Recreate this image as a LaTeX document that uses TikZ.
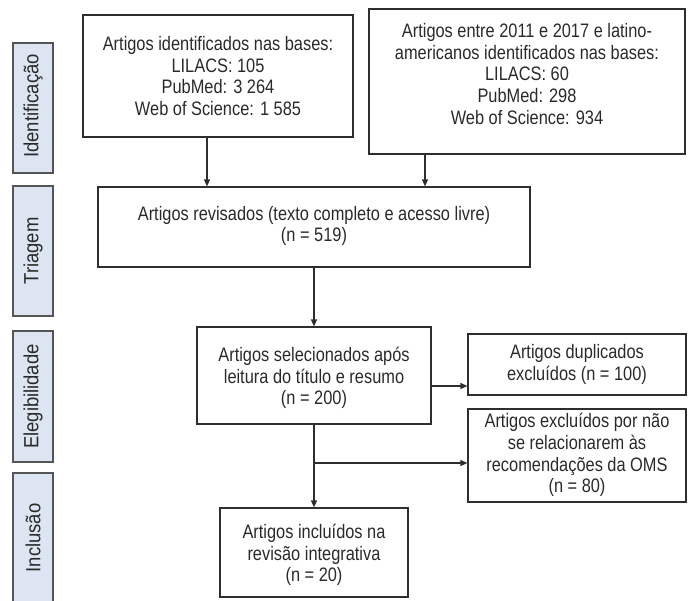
\documentclass[tikz,border=0pt]{standalone}
\usepackage{fontspec}
\setmainfont{Liberation Sans}[FakeStretch=0.84]
\newfontfamily\sidefont{Liberation Sans}[FakeStretch=0.9]
\usetikzlibrary{arrows.meta}
\definecolor{linec}{HTML}{2E2E2E}
\definecolor{txtc}{HTML}{2A2A2A}
\definecolor{sidefill}{HTML}{DCE5F1}
\definecolor{sidedraw}{HTML}{555555}
\tikzset{
  box/.style={draw=linec, line width=1.2pt, rectangle, inner sep=0pt},
  txt/.style={align=center, inner sep=0pt, text=txtc, font=\fontsize{19.5}{21.7}\selectfont},
  side/.style={draw=sidedraw, fill=sidefill, line width=1.2pt, rectangle, inner sep=0pt, minimum width=40pt},
  sidetxt/.style={rotate=90, inner sep=0pt, text=txtc, font=\sidefont\fontsize{20.5}{22}\selectfont},
  arr/.style={draw=linec, line width=1.2pt, -{Triangle[length=7pt,width=6pt]}},
  ln/.style={draw=linec, line width=1.2pt}
}
\begin{document}
\begin{tikzpicture}[x=1pt,y=-1pt]
\useasboundingbox (0,0) rectangle (688,600);
% side labels
\node[side, minimum height=130pt] (s1) at (33,108) {};
\node[sidetxt] (s1t) at (33,106) {Identificação};
\node[side, minimum height=130pt] (s2) at (33,251) {};
\node[sidetxt] (s2t) at (33,251) {Triagem};
\node[side, minimum height=131pt] (s3) at (33,396.5) {};
\node[sidetxt] (s3t) at (33,396.5) {Elegibilidade};
\node[side, minimum height=132pt] (s4) at (33,539) {};
\node[sidetxt] (s4t) at (33,538) {Inclusão};
% boxes
\node[box, minimum width=270pt, minimum height=122pt] (b1) at (218,76) {};
\node[txt] (b1t) at (218,76) {Artigos identificados nas bases:\\LILACS: 105\\PubMed: 3 264\\Web of Science: 1 585};
\node[box, minimum width=316pt, minimum height=145pt] (b2) at (527,81.5) {};
\node[txt] (b2t) at (527,74) {Artigos entre 2011 e 2017 e latino-\\americanos identificados nas bases:\\LILACS: 60\\PubMed: 298\\Web of Science: 934};
\node[box, minimum width=432pt, minimum height=80pt] (b3) at (314,227) {};
\node[txt] (b3t) at (314,226) {Artigos revisados (texto completo e acesso livre)\\(n = 519)};
\node[box, minimum width=234pt, minimum height=97pt] (b4) at (314,375.5) {};
\node[txt] (b4t) at (314,378) {Artigos selecionados após\\leitura do título e resumo\\(n = 200)};
\node[box, minimum width=188pt, minimum height=89pt] (b5) at (314,552.5) {};
\node[txt] (b5t) at (314,555) {Artigos incluídos na\\revisão integrativa\\(n = 20)};
\node[box, minimum width=218pt, minimum height=61pt] (d) at (577,364.5) {};
\node[txt] (dt) at (577,364.5) {Artigos duplicados\\excluídos (n = 100)};
\node[box, minimum width=218pt, minimum height=93pt] (e) at (577,455.5) {};
\node[txt] (et) at (577,455) {Artigos excluídos por não\\se relacionarem às\\recomendações da OMS\\(n = 80)};
% connectors
\draw[arr] ([xshift=-11pt]b1.south) -- ([xshift=-11pt]b1.south |- b3.north);
\draw[arr] ([xshift=-102pt]b2.south) -- ([xshift=-102pt]b2.south |- b3.north);
\draw[arr] (b3.south) -- (b4.north);
\draw[arr] ([yshift=-10.5pt]b4.east) -- ([yshift=-10.5pt]b4.east -| d.west);
\draw[arr] (b4.south) -- (b5.north);
\coordinate (br) at (314,463);
\draw[arr] (br) -- (br -| e.west);
\end{tikzpicture}
\end{document}
